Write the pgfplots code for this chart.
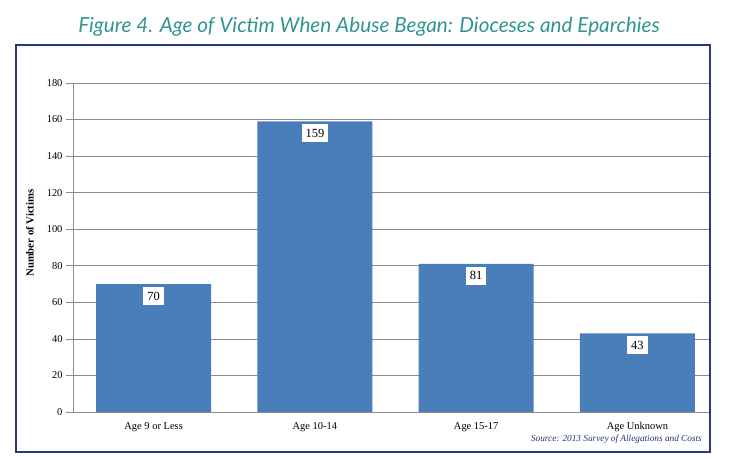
\documentclass[border=0pt]{standalone}
\usepackage{fontspec}
\setmainfont{Liberation Serif}
\newfontfamily\titlefont{Lato}
\usepackage{pgfplots}
\pgfplotsset{compat=1.18}
\definecolor{teal1}{RGB}{48,148,144}
\definecolor{barblue}{RGB}{74,126,187}
\definecolor{framenavy}{RGB}{40,58,120}
\definecolor{srcblue}{RGB}{30,50,120}
\definecolor{gridgray}{RGB}{140,140,140}
\begin{document}
\begin{tikzpicture}[x=1bp,y=1bp]
\path[use as bounding box] (0,0) rectangle (738,462);
\begin{axis}[
  at={(73bp,50bp)}, anchor=south west,
  scale only axis, width=637bp, height=329bp,
  ymin=0, ymax=180, ytick={0,20,...,180},
  xmin=-0.5, xmax=3.45,
  xtick={0,1,2,3},
  xticklabels={Age 9 or Less, Age 10-14, Age 15-17, Age Unknown},
  major x tick style={draw=none},
  extra x ticks={0.5,1.5,2.5},
  extra x tick labels={},
  extra x tick style={major tick length=4bp, tick style={draw=gridgray}, grid=none},
  axis x line*=bottom, axis y line*=left,
  axis line style={gridgray, line width=0.7bp, -},
  tick align=outside,
  major tick length=7bp,
  ytick style={draw=gridgray, line width=0.7bp},
  ymajorgrids, grid style={gridgray, line width=0.7bp},
  /pgf/number format/assume math mode=true,
  tick label style={font=\fontsize{10.5}{12}\selectfont},
  ylabel={\bfseries Number of Victims},
  ylabel style={at={(axis description cs:-0.0675,0.544)}, anchor=center, font=\fontsize{10.8}{12}\selectfont},
  ybar, bar width=115bp, bar shift=0pt,
  nodes near coords,
  every node near coord/.append style={anchor=north, fill=white, inner xsep=4bp, inner ysep=5bp, yshift=-2.5bp, font=\fontsize{12.5}{14}\selectfont, text=black},
]
\addplot[fill=barblue, draw=none] coordinates {(0,70) (1,159) (2,81) (3,43)};
\end{axis}
\draw[framenavy, line width=1.4bp] (16,10) rectangle (710,417);
\node[anchor=base, text=teal1, font=\titlefont\itshape\fontsize{20.8}{24}\selectfont] at (369,429) {Figure 4. Age of Victim When Abuse Began: Dioceses and Eparchies};
\node[anchor=base east, text=srcblue, font=\itshape\fontsize{9.3}{11}\selectfont, inner sep=0pt] at (702,20) {Source: 2013 Survey of Allegations and Costs};
\end{tikzpicture}
\end{document}
